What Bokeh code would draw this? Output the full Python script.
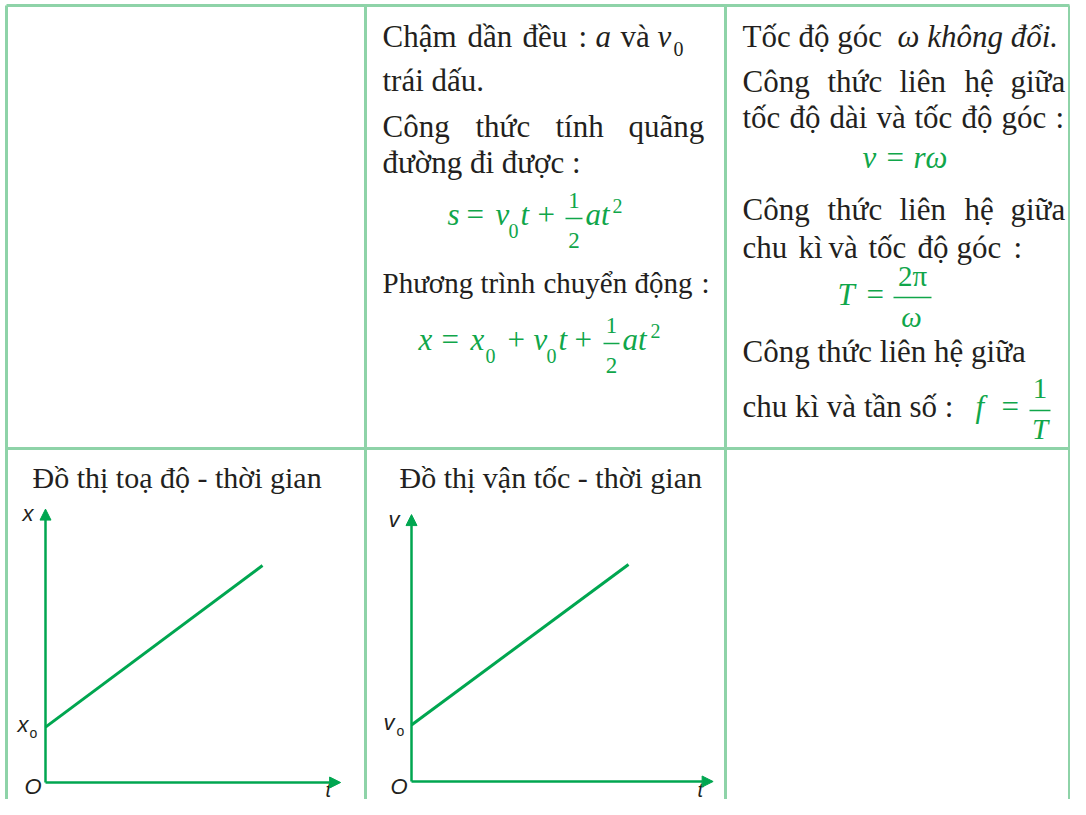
from bokeh.plotting import figure
from bokeh.models import Range1d, ColumnDataSource, Arrow, NormalHead
from bokeh.core.properties import value
from bokeh.embed import file_html
from bokeh.resources import INLINE

# ---------------- data ----------------
t_vals = [0, 10]              # time values of the plotted segment
x_vals = [2.55, 10.0]         # x - t graph (coordinate)
v_vals = [2.6, 10.0]          # v - t graph (velocity)
t_axis_len = [13.6, 13.9]     # length of t axes (graph units)
y_axis_len = [12.6, 12.3]     # length of vertical axes (graph units)
graph_titles = ["Đồ thị toạ độ - thời gian", "Đồ thị vận tốc - thời gian"]
axis_labels = ["x", "v", "O", "t"]

# ---------------- page geometry ----------------
W, H = 1070, 799
BLACK = "#231F20"
GREEN = "#10A64A"
LINE_GREEN = "#00A650"
BORDER = "#8ED3A8"
BASELINE_FIX = 0.35   # text is rendered ~0.35em below the requested baseline

p = figure(width=W, height=H, x_range=Range1d(0, W), y_range=Range1d(H, 0),
           output_backend="svg", toolbar_location=None, min_border=0,
           x_axis_type=None, y_axis_type=None, outline_line_color=None,
           background_fill_color="white", border_fill_color="white")
p.xgrid.visible = False
p.ygrid.visible = False

# ---------------- table borders ----------------
LEFT, RIGHT, TOP, BOTTOM = 6, 1069, 5, 800
COL1, COL2, ROWMID = 365, 725, 448
p.segment(x0=[LEFT, LEFT, LEFT, COL1, COL2, RIGHT],
          y0=[TOP, ROWMID, TOP, TOP, TOP, TOP],
          x1=[RIGHT, RIGHT, LEFT, COL1, COL2, RIGHT],
          y1=[TOP, ROWMID, BOTTOM, BOTTOM, BOTTOM, BOTTOM],
          line_color=BORDER, line_width=3)

# ---------------- text styles ----------------
SERIF = "Liberation Serif"
SANS = "Liberation Sans"
STY = {
    "b":   (SERIF, 31, "normal", BLACK),
    "b29": (SERIF, 29, "normal", BLACK),
    "bi":  (SERIF, 31, "italic", BLACK),
    "bs":  (SERIF, 20, "normal", BLACK),
    "t":   (SERIF, 30, "normal", BLACK),
    "g":   (SERIF, 31, "normal", GREEN),
    "gi":  (SERIF, 31, "italic", GREEN),
    "gm":  (SERIF, 29, "normal", GREEN),
    "gmi": (SERIF, 29, "italic", GREEN),
    "gs":  (SERIF, 20, "normal", GREEN),
    "gf":  (SERIF, 23, "normal", GREEN),
    "s":   (SANS, 22, "italic", BLACK),
    "st":  (SANS, 20, "italic", BLACK),
    "ss":  (SANS, 14, "normal", BLACK),
}

# (text, x, baseline y, style, align)
segments = [
    # middle cell, top row
    ("Chậm", 382, 47, "b", "left"), ("dần", 467, 47, "b", "left"), ("đều", 522, 47, "b", "left"),
    (":", 578, 47, "b", "left"), ("a", 595, 47, "bi", "left"), ("và", 620, 47, "b", "left"),
    ("v", 657, 47, "bi", "left"), ("0", 673, 55, "bs", "left"),
    ("trái dấu.", 382, 91, "b", "left"),
    ("Công", 382, 137, "b", "left"), ("thức", 475, 137, "b", "left"),
    ("tính", 555, 137, "b", "left"), ("quãng", 628, 137, "b", "left"),
    ("đường đi được :", 382, 173, "b", "left"),
    ("s", 447, 225, "gi", "left"), ("=", 466, 225, "g", "left"), ("v", 495, 225, "gi", "left"),
    ("0", 508, 237, "gs", "left"), ("t", 520, 225, "gi", "left"), ("+", 537, 225, "g", "left"),
    ("1", 573.5, 208, "gf", "center"), ("2", 573.5, 248, "gf", "center"),
    ("at", 585, 225, "gi", "left"), ("2", 612, 212, "gs", "left"),
    ("Phương", 382, 293, "b29", "left"), ("trình", 480, 293, "b29", "left"),
    ("chuyển", 543, 293, "b29", "left"), ("động", 634, 293, "b29", "left"),
    (":", 701, 293, "b29", "left"),
    ("x", 418, 350, "gi", "left"), ("=", 441, 350, "g", "left"), ("x", 470, 350, "gi", "left"),
    ("0", 485, 362, "gs", "left"), ("+", 507, 350, "g", "left"), ("v", 533, 350, "gi", "left"),
    ("0", 546, 362, "gs", "left"), ("t", 558, 350, "gi", "left"), ("+", 574, 350, "g", "left"),
    ("1", 611, 333, "gf", "center"), ("2", 611, 373, "gf", "center"),
    ("at", 622, 350, "gi", "left"), ("2", 650, 337, "gs", "left"),
    # right cell, top row
    ("Tốc độ góc", 742, 47, "b", "left"), ("ω không đổi.", 897, 47, "bi", "left"),
    ("Công", 742, 92, "b", "left"), ("thức", 827, 92, "b", "left"), ("liên", 899, 92, "b", "left"),
    ("hệ", 964, 92, "b", "left"), ("giữa", 1010, 92, "b", "left"),
    ("tốc", 742, 128, "b", "left"), ("độ", 789, 128, "b", "left"), ("dài", 829, 128, "b", "left"),
    ("và", 876, 128, "b", "left"), ("tốc", 914, 128, "b", "left"), ("độ", 961, 128, "b", "left"),
    ("góc", 1001, 128, "b", "left"), (":", 1055, 128, "b", "left"),
    ("v", 862, 168, "gi", "left"), ("=", 886, 168, "g", "left"), ("rω", 913, 168, "gi", "left"),
    ("Công", 742, 220, "b", "left"), ("thức", 827, 220, "b", "left"), ("liên", 899, 220, "b", "left"),
    ("hệ", 964, 220, "b", "left"), ("giữa", 1010, 220, "b", "left"),
    ("chu", 742, 258, "b", "left"), ("kì", 798, 258, "b", "left"), ("và", 828, 258, "b", "left"),
    ("tốc", 868, 258, "b", "left"), ("độ", 917, 258, "b", "left"), ("góc", 956, 258, "b", "left"),
    (":", 1013, 258, "b", "left"),
    ("T", 837, 305, "gi", "left"), ("=", 866, 305, "g", "left"),
    ("2π", 912, 286, "gm", "center"), ("ω", 911, 327, "gmi", "center"),
    ("Công thức liên hệ giữa", 742, 362, "b", "left"),
    ("chu kì và tần số :", 742, 417, "b", "left"),
    ("f", 975, 417, "gi", "left"), ("=", 1001, 417, "g", "left"),
    ("1", 1039.5, 398, "gm", "center"), ("T", 1039.5, 439, "gmi", "center"),
    # graph titles
    (graph_titles[0], 32, 487, "t", "left"),
    (graph_titles[1], 399, 487, "t", "left"),
    # graph labels
    (axis_labels[0], 22, 521, "s", "left"), (axis_labels[0], 17, 732, "s", "left"),
    ("o", 29, 737, "ss", "left"),
    (axis_labels[2], 24, 794, "s", "left"), (axis_labels[3], 325, 796, "st", "left"),
    (axis_labels[1], 388, 527, "s", "left"), (axis_labels[1], 383, 730, "s", "left"),
    ("o", 396, 735, "ss", "left"),
    (axis_labels[2], 390, 794, "s", "left"), (axis_labels[3], 697, 796, "st", "left"),
]

for key, (font, size, style, color) in STY.items():
    rows = [s for s in segments if s[3] == key]
    if not rows:
        continue
    src = ColumnDataSource(dict(x=[r[1] for r in rows],
                                y=[r[2] - BASELINE_FIX * size for r in rows],
                                text=[r[0] for r in rows], align=[r[4] for r in rows]))
    p.text(x="x", y="y", text="text", source=src, text_font=value(font),
           text_font_size=value("%dpx" % size), text_font_style=style,
           text_color=color, text_align="align", text_baseline="alphabetic")

# fraction bars
p.segment(x0=[565, 603, 893, 1029], y0=[218, 343, 297, 410],
          x1=[582, 619, 931, 1050], y1=[218, 343, 297, 410],
          line_color=GREEN, line_width=1.5)

# ---------------- graphs ----------------
K = 21.7  # px per graph unit
origins = [(45, 782), (411, 781)]
series = [x_vals, v_vals]
for i, (ox, oy) in enumerate(origins):
    xn, yn = "gx%d" % i, "gy%d" % i
    p.extra_x_ranges[xn] = Range1d((0 - ox) / K, (W - ox) / K)
    p.extra_y_ranges[yn] = Range1d((oy - H) / K, (oy - 0) / K)
    for (xs, ys, xe, ye) in [(0, 0, t_axis_len[i], 0), (0, 0, 0, y_axis_len[i])]:
        p.add_layout(Arrow(x_start=xs, y_start=ys, x_end=xe, y_end=ye,
                           x_range_name=xn, y_range_name=yn,
                           line_color=LINE_GREEN, line_width=2.5,
                           end=NormalHead(size=11, fill_color=LINE_GREEN,
                                          line_color=LINE_GREEN, line_width=1)))
    p.line(x=t_vals, y=series[i], x_range_name=xn, y_range_name=yn,
           line_color=LINE_GREEN, line_width=3)

open("out.html", "w").write(file_html(p, INLINE))
